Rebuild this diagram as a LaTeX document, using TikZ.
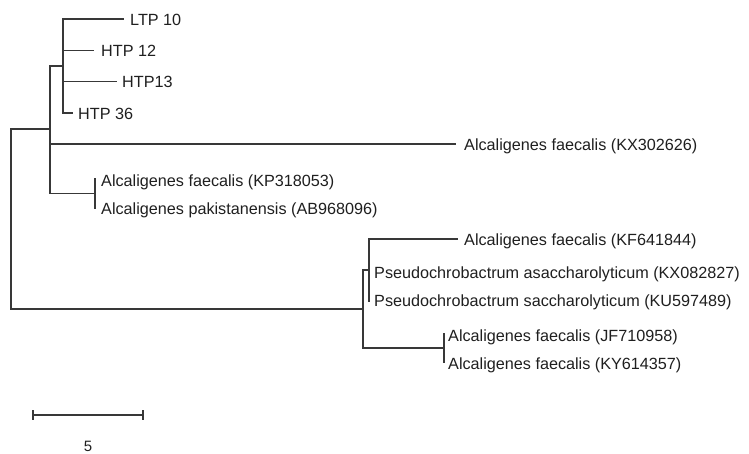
\documentclass[tikz,border=0pt]{standalone}
\usepackage{fontspec}
\setmainfont{Liberation Sans}
\begin{document}
\begin{tikzpicture}[x=1pt,y=-1pt,
  branch/.style={draw=black!78,line width=1.3pt,line cap=rect},
  leaf/.style={anchor=base west,inner sep=0pt,yshift=-6pt,text=black!88,
    font=\fontsize{16.2}{18}\selectfont}]
\useasboundingbox (0,0) rectangle (749,453);
% internal nodes
\coordinate (R) at (11,219);
\coordinate (U) at (50,129);
\coordinate (H) at (63,66);
\coordinate (P) at (95,193.5);
\coordinate (L) at (363,309);
\coordinate (Q) at (369,270);
\coordinate (J) at (444,348);
% branch tips
\coordinate (tLTP) at (123,19);
\coordinate (tH12) at (93,50.5);
\coordinate (tH13) at (116,81.5);
\coordinate (tH36) at (72,113);
\coordinate (tKX3) at (455,144);
\coordinate (tKP) at (95,179);
\coordinate (tAB) at (95,208);
\coordinate (tKF) at (457,239);
\coordinate (tKX0) at (369,271);
\coordinate (tKU) at (369,301);
\coordinate (tJF) at (444,334);
\coordinate (tKY) at (444,362);
% labels
\node[leaf] (LTP) at (130,19) {LTP 10};
\node[leaf] (H12) at (101,50.5) {HTP 12};
\node[leaf] (H13) at (122,81.5) {HTP13};
\node[leaf] (H36) at (78,113) {HTP 36};
\node[leaf] (KX3) at (464,144) {Alcaligenes faecalis (KX302626)};
\node[leaf] (KP) at (101,180) {Alcaligenes faecalis (KP318053)};
\node[leaf] (AB) at (101,208) {Alcaligenes pakistanensis (AB968096)};
\node[leaf] (KF) at (464,239) {Alcaligenes faecalis (KF641844)};
\node[leaf] (KX0) at (374,272) {Pseudochrobactrum asaccharolyticum (KX082827)};
\node[leaf] (KU) at (374,300) {Pseudochrobactrum saccharolyticum (KU597489)};
\node[leaf] (JF) at (448,335) {Alcaligenes faecalis (JF710958)};
\node[leaf] (KY) at (448,363) {Alcaligenes faecalis (KY614357)};
% tree edges
\draw[branch] (R) |- (U);
\draw[branch] (R) |- (L);
\draw[branch] (U) |- (H);
\draw[branch] (U) |- (tKX3);
\draw[branch] (U) |- (P);
\draw[branch] (H) |- (tLTP);
\draw[branch] (H) |- (tH12);
\draw[branch] (H) |- (tH13);
\draw[branch] (H) |- (tH36);
\draw[branch] (P) -- (tKP);
\draw[branch] (P) -- (tAB);
\draw[branch] (L) |- (Q);
\draw[branch] (L) |- (J);
\draw[branch] (Q) |- (tKF);
\draw[branch] (Q) -- (tKX0);
\draw[branch] (Q) -- (tKU);
\draw[branch] (J) -- (tJF);
\draw[branch] (J) -- (tKY);
% scale bar
\coordinate (s1) at (33,415);
\coordinate (s2) at (143,415);
\draw[branch,line cap=butt] (s1) -- (s2);
\draw[branch,line cap=butt] ([yshift=5pt]s1) -- ([yshift=-5pt]s1);
\draw[branch,line cap=butt] ([yshift=5pt]s2) -- ([yshift=-5pt]s2);
\node[inner sep=0pt,text=black!88,font=\fontsize{15}{17}\selectfont] (five) at (88,446) {5};
\end{tikzpicture}
\end{document}
